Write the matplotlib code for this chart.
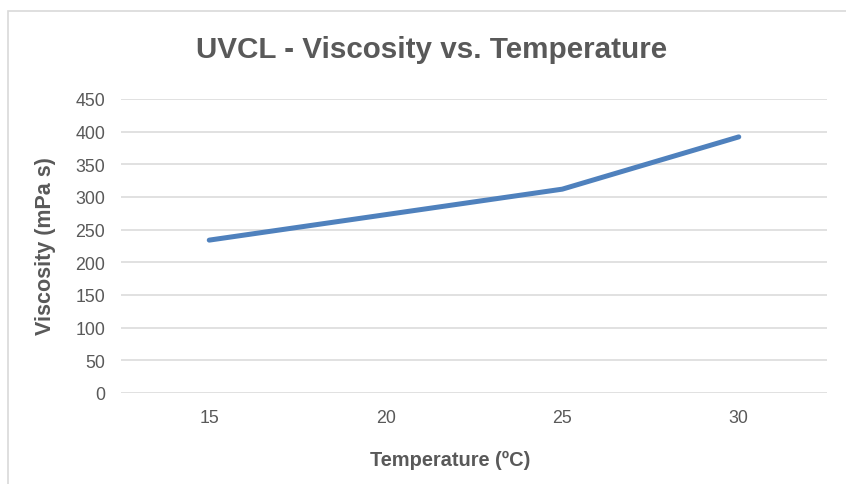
import matplotlib
matplotlib.use('Agg')
import matplotlib.pyplot as plt
from matplotlib.patches import Rectangle

plt.rcParams['font.family'] = ['Liberation Sans', 'DejaVu Sans']

# data
temperatures = ['15', '20', '25', '30']
viscosity = [234, 273, 312, 392]

grey = '#595959'
fig = plt.figure(figsize=(8.46, 4.85), dpi=100)

# chart frame (only left/top edges visible, rest cropped)
fig.patches.append(Rectangle((8 / 846, -0.1), 1.2, 1 - 12 / 485 + 0.1,
                             transform=fig.transFigure, fill=False,
                             edgecolor='#D9D9D9', linewidth=1.2))

ax = fig.add_axes([121 / 846, 1 - 394 / 485, (827 - 121) / 846, (394 - 100) / 485])
x = range(len(temperatures))
ax.plot(x, viscosity, color='#4F81BD', linewidth=3.6, solid_capstyle='round',
        solid_joinstyle='round', zorder=3)

ax.set_xlim(-0.5, len(temperatures) - 0.5)
ax.set_ylim(0, 450)
ax.set_yticks(range(0, 451, 50))
ax.set_xticks(list(x))
ax.set_xticklabels(temperatures)
ax.grid(axis='y', color='#D9D9D9', linewidth=1.1)
ax.set_axisbelow(True)
for s in ax.spines.values():
    s.set_visible(False)
ax.tick_params(length=0, labelsize=12.8, labelcolor=grey)
ax.tick_params(axis='y', pad=11.5)
ax.tick_params(axis='x', pad=11.5)

# axis titles
fig.text(450 / 846, 1 - 460 / 485, 'Temperature (ºC)', ha='center', va='center',
         fontsize=14.4, fontweight='bold', color=grey)
fig.text(46 / 846, 1 - 246 / 485, 'Viscosity (mPa s)', ha='center', va='center',
         rotation=90, fontsize=15.5, fontweight='bold', color=grey)

fig.text(432 / 846, 1 - 50 / 485, 'UVCL - Viscosity vs. Temperature', ha='center', va='center',
         fontsize=21.3, fontweight='bold', color=grey)

plt.savefig('out.png', dpi=100)
